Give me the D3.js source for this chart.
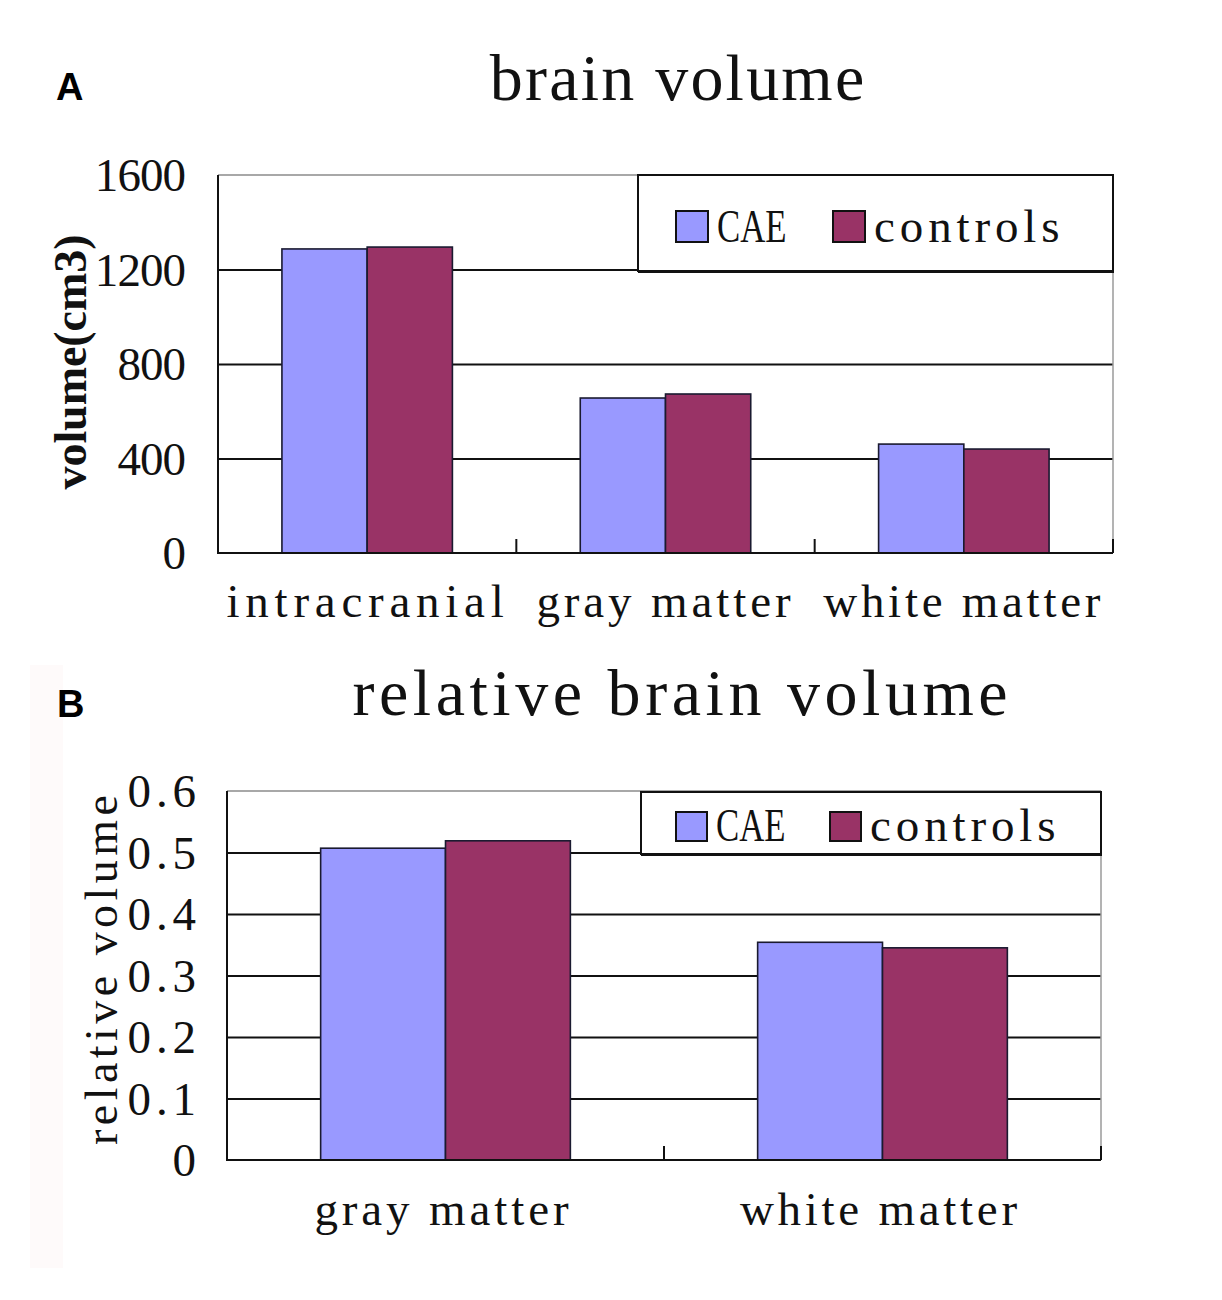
<!DOCTYPE html>
<html lang="en">
<head>
    <meta charset="UTF-8">
    <title>brain volume</title>
    <script src="https://d3js.org/d3.v7.min.js"></script>
    <style>
        body {
            margin: 0;
            background: #ffffff;
        }

        svg {
            display: block;
        }

        .serif {
            font-family: 'Liberation Serif', 'Times New Roman', serif;
            fill: #111;
        }

        .panel-label {
            font-family: 'Liberation Sans', Arial, sans-serif;
            font-weight: bold;
            font-size: 38px;
            fill: #000;
        }
    </style>
</head>
<body>
    <svg></svg>

    <script>
        // Panel A data
        const categoriesA = ["intracranial", "gray matter", "white matter"];
        const caeA = [1287, 656, 461];
        const controlsA = [1295, 673, 440];
        const ticksA = [0, 400, 800, 1200, 1600];

        // Panel B data
        const categoriesB = ["gray matter", "white matter"];
        const caeB = [0.507, 0.354];
        const controlsB = [0.519, 0.345];
        const ticksB = [0, 0.1, 0.2, 0.3, 0.4, 0.5, 0.6];

        const seriesNames = ["CAE", "controls"];
        const seriesColors = ["#9999ff", "#993366"];

        const width = 1222;
        const height = 1300;

        const svg = d3.select("svg")
            .attr("width", width)
            .attr("height", height);

        svg.append("rect")
            .attr("width", width)
            .attr("height", height)
            .attr("fill", "#ffffff");

        // faint tint strip left of panel B (scan artefact in original)
        svg.append("rect")
            .attr("x", 30).attr("y", 665)
            .attr("width", 33).attr("height", 603)
            .attr("fill", "#fefafa");

        function drawPanel(cfg) {
            const { left, right, top, bottom } = cfg.box;
            const g = svg.append("g");

            const x = d3.scaleBand()
                .domain(cfg.categories)
                .range([left, right])
                .padding(0);

            const xs = d3.scaleBand()
                .domain(seriesNames)
                .range([0, x.bandwidth()])
                .paddingInner(0)
                .paddingOuter(0.75);

            const y = d3.scaleLinear()
                .domain([0, cfg.ticks[cfg.ticks.length - 1]])
                .range([bottom, top]);

            // gridlines
            g.append("g")
                .attr("transform", `translate(${left},0)`)
                .call(d3.axisLeft(y).tickValues(cfg.ticks.slice(1, -1)).tickSize(-(right - left)).tickFormat(""))
                .call(a => a.select(".domain").remove())
                .call(a => a.selectAll("line").attr("stroke", "#111").attr("stroke-width", 2));

            // top + right frame (light)
            g.append("line")
                .attr("x1", left).attr("x2", right)
                .attr("y1", top).attr("y2", top)
                .attr("stroke", "#a8a8a8").attr("stroke-width", 2);
            g.append("line")
                .attr("x1", right).attr("x2", right)
                .attr("y1", top).attr("y2", bottom)
                .attr("stroke", "#9a9a9a").attr("stroke-width", 1.5);

            // bars
            const rows = cfg.categories.map((c, i) => ({ cat: c, vals: [cfg.cae[i], cfg.controls[i]] }));
            const grp = g.selectAll(".cat")
                .data(rows)
                .enter().append("g")
                .attr("transform", d => `translate(${x(d.cat)},0)`);

            grp.selectAll("rect")
                .data(d => d.vals.map((v, j) => ({ s: seriesNames[j], v: v, j: j })))
                .enter().append("rect")
                .attr("x", d => xs(d.s))
                .attr("y", d => y(d.v))
                .attr("width", xs.bandwidth())
                .attr("height", d => bottom - y(d.v))
                .attr("fill", d => seriesColors[d.j])
                .attr("stroke", "#1a1a30")
                .attr("stroke-width", 1.6);

            // axes lines
            g.append("line")
                .attr("x1", left).attr("x2", left)
                .attr("y1", top).attr("y2", bottom)
                .attr("stroke", "#111").attr("stroke-width", 2);
            g.append("line")
                .attr("x1", left - 1).attr("x2", right)
                .attr("y1", bottom).attr("y2", bottom)
                .attr("stroke", "#111").attr("stroke-width", 2);

            // category separator ticks (inside)
            g.selectAll(".sep")
                .data(cfg.categories)
                .enter().append("line")
                .attr("x1", d => x(d) + x.bandwidth())
                .attr("x2", d => x(d) + x.bandwidth())
                .attr("y1", bottom)
                .attr("y2", bottom - 14)
                .attr("stroke", "#111").attr("stroke-width", 2);

            // y tick labels
            g.append("g")
                .attr("transform", `translate(${left},0)`)
                .call(d3.axisLeft(y).tickValues(cfg.ticks).tickSize(0).tickPadding(cfg.tickPad).tickFormat(cfg.fmt))
                .call(a => a.select(".domain").remove())
                .call(a => a.selectAll("text")
                    .attr("class", "serif")
                    .attr("font-size", 47)
                    .attr("font-family", null)
                    .attr("fill", "#111")
                    .attr("dy", "0.33em")
                    .attr("textLength", function() { return this.textContent.length * 22.8; })
                    .attr("lengthAdjust", "spacing"));

            // x category labels
            g.selectAll(".xlab")
                .data(cfg.categories)
                .enter().append("text")
                .attr("class", "serif")
                .attr("x", d => x(d) + x.bandwidth() / 2 + cfg.xLabShift)
                .attr("y", cfg.xLabY)
                .attr("text-anchor", "middle")
                .attr("font-size", 47)
                .attr("textLength", d => d.length * 23.1)
                .attr("lengthAdjust", "spacing")
                .text(d => d);

            // title
            g.append("text")
                .attr("class", "serif")
                .attr("x", cfg.titleX)
                .attr("y", cfg.titleY)
                .attr("text-anchor", "middle")
                .attr("font-size", 66)
                .attr("textLength", cfg.title.length * 31.2)
                .attr("lengthAdjust", "spacing")
                .text(cfg.title);

            // y axis title
            g.append("text")
                .attr("class", "serif")
                .attr("transform", `translate(${cfg.yTitleX},${cfg.yTitleY}) rotate(-90)`)
                .attr("text-anchor", "middle")
                .attr("font-size", 46)
                .attr("font-weight", cfg.yTitleBold ? "bold" : "normal")
                .attr("textLength", cfg.yTitleLen)
                .attr("lengthAdjust", "spacing")
                .text(cfg.yTitle);

            // panel label
            g.append("text")
                .attr("class", "panel-label")
                .attr("x", cfg.labelX)
                .attr("y", cfg.labelY)
                .text(cfg.label);

            // legend
            const L = cfg.legend;
            const lg = g.append("g");
            lg.append("rect")
                .attr("x", L.x).attr("y", L.y)
                .attr("width", L.w).attr("height", L.h)
                .attr("fill", "#fff")
                .attr("stroke", "#111").attr("stroke-width", 2);
            lg.append("line")
                .attr("x1", L.x).attr("x2", L.x + L.w + 1)
                .attr("y1", L.y + L.h + 1).attr("y2", L.y + L.h + 1)
                .attr("stroke", "#111").attr("stroke-width", 2);

            const items = lg.selectAll(".item")
                .data(seriesNames)
                .enter().append("g")
                .attr("transform", (d, i) => `translate(${L.itemX[i]},${L.sy})`);

            items.append("rect")
                .attr("width", L.sw).attr("height", L.sh)
                .attr("fill", (d, i) => seriesColors[i])
                .attr("stroke", "#111").attr("stroke-width", 2);

            // capitals are squeezed (narrow CJK-style glyphs), lowercase only spaced
            items.append("text")
                .attr("class", "serif")
                .attr("x", L.sw + 9)
                .attr("y", L.sh)
                .attr("font-size", 47)
                .attr("textLength", d => d.length * 23.2)
                .attr("lengthAdjust", d => d === d.toUpperCase() ? "spacingAndGlyphs" : "spacing")
                .text(d => d);
        }

        drawPanel({
            categories: categoriesA,
            cae: caeA,
            controls: controlsA,
            ticks: ticksA,
            fmt: d3.format("d"),
            box: { left: 218, right: 1113, top: 175, bottom: 553 },
            tickPad: 32,
            xLabY: 617,
            xLabShift: -2,
            title: "brain volume",
            titleX: 677,
            titleY: 100,
            yTitle: "volume(cm3)",
            yTitleBold: true,
            yTitleX: 86,
            yTitleY: 362,
            yTitleLen: 255,
            label: "A",
            labelX: 56,
            labelY: 100,
            legend: { x: 638, y: 175, w: 475, h: 96, itemX: [676, 833], sy: 211, sw: 32, sh: 31 }
        });

        drawPanel({
            categories: categoriesB,
            cae: caeB,
            controls: controlsB,
            ticks: ticksB,
            fmt: d => d === 0 ? "0" : d3.format(".1f")(d),
            box: { left: 227, right: 1101, top: 791, bottom: 1160 },
            tickPad: 31,
            xLabY: 1225,
            xLabShift: -4,
            title: "relative brain volume",
            titleX: 680,
            titleY: 715,
            yTitle: "relative volume",
            yTitleBold: false,
            yTitleX: 117,
            yTitleY: 970,
            yTitleLen: 350,
            label: "B",
            labelX: 57,
            labelY: 717,
            legend: { x: 641, y: 792, w: 460, h: 62, itemX: [676, 830], sy: 812, sw: 31, sh: 29 }
        });
    </script>
</body>
</html>
